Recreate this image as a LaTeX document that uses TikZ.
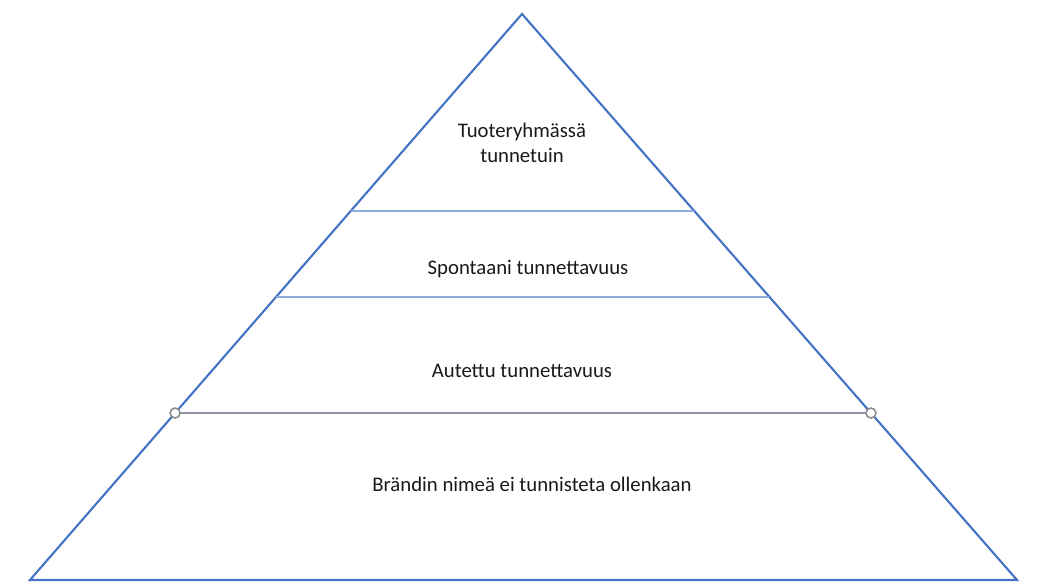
\documentclass[tikz,border=0pt]{standalone}
\usepackage{fontspec}
\setmainfont{Carlito}
\usetikzlibrary{calc}
\definecolor{edgeblue}{HTML}{4472C4}
\definecolor{tierblue}{HTML}{8FAADC}
\definecolor{handlegray}{HTML}{8C8C8C}

\begin{document}
\begin{tikzpicture}[x=0.01cm,y=-0.01cm,
	tier/.style={draw=tierblue,line width=0.45pt},
	handle/.style={circle,draw=handlegray,fill=white,line width=0.45pt,inner sep=0pt,minimum size=1mm},
	label/.style={font=\fontsize{5.9}{7.1}\selectfont,align=center,text=black!90}]
		\useasboundingbox (0,0) rectangle (1038,586);
		\coordinate (apex) at (522,14);
		\coordinate (bl) at (30,580);
		\coordinate (br) at (1017,580);
		\draw[edgeblue,line width=0.6pt,line join=miter] (apex) -- (br) -- (bl) -- cycle;
		% tier lines
		\coordinate (t1l) at ($(apex)!0.348!(bl)$);
		\coordinate (t1r) at ($(apex)!0.348!(br)$);
		\coordinate (t2l) at ($(apex)!0.5!(bl)$);
		\coordinate (t2r) at ($(apex)!0.5!(br)$);
		\coordinate (t3l) at ($(apex)!0.705!(bl)$);
		\coordinate (t3r) at ($(apex)!0.705!(br)$);
		\draw[tier] (t1l) -- (t1r);
		\draw[tier] (t2l) -- (t2r);
		\draw[tier,draw=handlegray!70!tierblue,line width=0.35pt] (t3l) -- (t3r);
		\node[handle] (h1) at (t3l) {};
		\node[handle] (h2) at (t3r) {};
		% labels
		\node[label] (top) at (522,143) {Tuoteryhmässä\\tunnetuin};
		\node[label] (spont) at (528,269) {Spontaani tunnettavuus};
		\node[label] (aut) at (522,371) {Autettu tunnettavuus};
		\node[label] (none) at (532,484) {Brändin nimeä ei tunnisteta ollenkaan};
\end{tikzpicture}
\end{document}
